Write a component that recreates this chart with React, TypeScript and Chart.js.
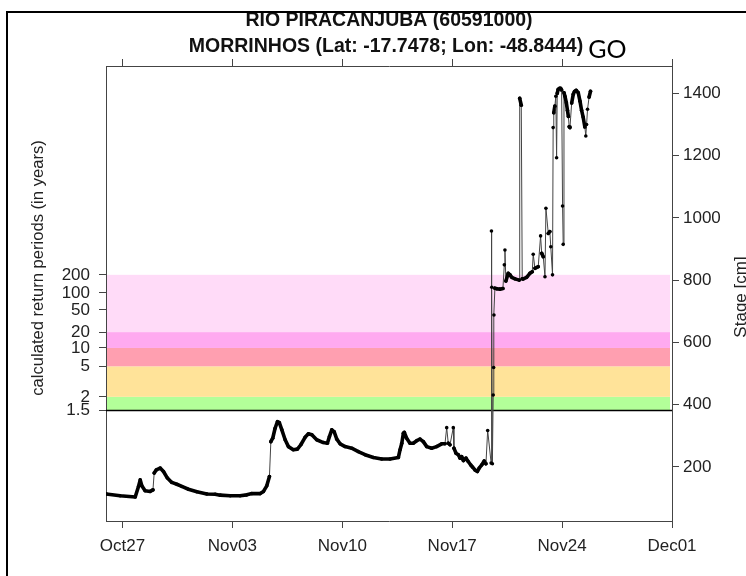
import React, { useEffect, useRef } from "react";
import { Chart, registerables } from "chart.js";

Chart.register(...registerables);

const titleLine1 = "RIO PIRACANJUBA (60591000)";
const titleLine2 = "MORRINHOS (Lat: -17.7478; Lon: -48.8444)";
const titleSuffix = "GO";
const leftAxisTitle = "calculated return periods (in years)";
const rightAxisTitle = "Stage [cm]";

// x in days since Oct 27 00:00
const dateTickDays = [0, 7, 14, 21, 28, 35];
const dateTickLabels = ["Oct27", "Nov03", "Nov10", "Nov17", "Nov24", "Dec01"];
const xMin = -1.05;
const xMax = 35;

const stageTicks = [200, 400, 600, 800, 1000, 1200, 1400];
const stageMin = 26;
const stageMax = 1488;

const returnPeriodLabels = ["1.5", "2", "5", "10", "20", "50", "100", "200"];
const returnPeriodStages = [381, 425, 523, 582, 633, 704, 759, 817];

const bandLowStage = [381, 425, 523, 582, 633];
const bandHighStage = [425, 523, 582, 633, 817];
const bandColors = ["#B3FF99", "#FFE399", "#FF9FB0", "#FFAAF0", "#FFDBF8"];

const timeDays = [
  -1.04, -0.15, 0.81, 1.02, 1.13, 1.23, 1.44, 1.76, 1.94, 2.02, 2.15, 2.4, 2.61, 2.86, 3.14, 3.46, 3.78, 4.2,
  4.74, 5.37, 5.9, 6.22, 6.86, 7.49, 7.92, 8.24, 8.77, 8.98, 9.19, 9.36, 9.45, 9.57, 9.72, 9.87, 9.99, 10.15,
  10.36, 10.57, 10.88, 11.14, 11.36, 11.63, 11.84, 12.06, 12.37, 12.79, 13.05, 13.18, 13.33, 13.48, 13.65,
  13.86, 14.18, 14.6, 15.02, 15.45, 15.98, 16.51, 17.04, 17.57, 17.68, 17.79, 17.89, 17.95, 18.1, 18.31,
  18.52, 18.74, 18.95, 19.16, 19.38, 19.69, 20.01, 20.33, 20.54, 20.65, 20.75, 20.86, 21.07, 21.11, 21.24,
  21.39, 21.5, 21.6, 21.71, 21.88, 22.02, 22.18, 22.3, 22.45, 22.6, 22.72, 22.88, 23.04, 23.15, 23.26, 23.48,
  23.5, 23.52, 23.56, 23.61, 23.64, 23.66, 23.72, 23.85, 24.04, 24.23, 24.32, 24.36, 24.42, 24.57, 24.68,
  24.79, 25.0, 25.27, 25.3, 25.4, 25.46, 25.53, 25.74, 25.95, 26.1, 26.16, 26.27, 26.48, 26.63, 26.7, 26.8,
  26.91, 26.97, 27.12, 27.22, 27.28, 27.39, 27.43, 27.47, 27.54, 27.6, 27.65, 27.69, 27.75, 27.83, 27.91,
  27.97, 28.03, 28.07, 28.12, 28.18, 28.27, 28.34, 28.4, 28.45, 28.5, 28.61, 28.71, 28.79, 28.9, 29.03,
  29.14, 29.24, 29.34, 29.45, 29.51, 29.56, 29.62, 29.72, 29.81,
];

const stageCm = [
  113, 107, 103, 137, 158, 139, 123, 121, 126, 180, 190, 196, 185, 164, 150, 144, 137, 128,
  120, 113, 112, 109, 107, 107, 110, 114, 114, 121, 139, 169, 281, 292, 324, 345, 342, 319,
  287, 265, 255, 257, 271, 295, 306, 303, 287, 278, 276, 297, 319, 313, 289,
  274, 265, 260, 249, 239, 230, 225, 225, 230, 255, 276, 308, 311, 292, 276,
  276, 284, 289, 281, 265, 260, 265, 274, 274, 326, 276, 271, 326, 260, 244,
  239, 228, 233, 220, 228, 217, 206, 199, 190, 185, 196, 206, 219, 210, 317, 212,
  958, 777, 210, 431, 519, 688, 774, 772, 771, 773, 849, 897, 797, 822, 817,
  809, 804, 800, 1384, 1362, 804, 804, 809, 822, 827, 883, 838, 843, 942, 886, 875,
  811, 1031, 950, 956, 907, 817, 1290, 1338, 1359, 1391, 1193, 1400, 1413, 1416, 1416,
  1411, 1038, 915, 1402, 1391, 1370, 1346, 1326, 1293, 1290, 1369, 1397, 1406, 1410, 1402,
  1375, 1346, 1324, 1292, 1263, 1300, 1349, 1388, 1407,
];

const FONT = "'Liberation Sans', Arial, Helvetica, sans-serif";

const decorPlugin = {
  id: "decor",
  beforeDatasetsDraw(chart: any) {
    const { ctx, chartArea } = chart;
    const y = chart.scales.yR;
    ctx.save();
    for (let i = 0; i < bandColors.length; i++) {
      const top = y.getPixelForValue(bandHighStage[i]);
      const bot = y.getPixelForValue(bandLowStage[i]);
      ctx.fillStyle = bandColors[i];
      ctx.fillRect(chartArea.left + 1, top, chartArea.right - chartArea.left - 3, bot - top);
    }
    const yl = y.getPixelForValue(returnPeriodStages[0]);
    ctx.strokeStyle = "#000";
    ctx.lineWidth = 1.5;
    ctx.beginPath();
    ctx.moveTo(chartArea.left, yl);
    ctx.lineTo(chartArea.right, yl);
    ctx.stroke();
    ctx.restore();
  },
  afterDraw(chart: any) {
    const { ctx } = chart;
    ctx.save();
    ctx.fillStyle = "#111";
    ctx.textBaseline = "middle";
    ctx.textAlign = "center";
    ctx.font = `bold 19.5px ${FONT}`;
    ctx.fillText(titleLine1, 389, 21);
    ctx.fillText(titleLine2, 386, 47);
    const w2 = ctx.measureText(titleLine2).width;
    ctx.textAlign = "left";
    ctx.font = `25px Lato, 'Open Sans', sans-serif`;
    ctx.fillStyle = "#000";
    ctx.fillText(titleSuffix, 386 + w2 / 2 + 5, 50);

    ctx.fillStyle = "#222";
    ctx.font = `16.6px ${FONT}`;
    ctx.textAlign = "center";
    ctx.save();
    ctx.translate(38, 268);
    ctx.rotate(-Math.PI / 2);
    ctx.fillText(leftAxisTitle, 0, 0);
    ctx.restore();
    ctx.font = `17px ${FONT}`;
    ctx.save();
    ctx.translate(741, 297);
    ctx.rotate(-Math.PI / 2);
    ctx.fillText(rightAxisTitle, 0, 0);
    ctx.restore();

    // outer frame
    ctx.strokeStyle = "#000";
    ctx.lineWidth = 2;
    ctx.beginPath();
    ctx.moveTo(7, 576);
    ctx.lineTo(7, 12);
    ctx.lineTo(746, 12);
    ctx.stroke();
    ctx.restore();
  },
};

const isSteep = (c: any) => {
  const dx = Math.abs(c.p1.x - c.p0.x);
  const dy = Math.abs(c.p1.y - c.p0.y);
  return dy > 12 || dy > 5 * dx + 4;
};

export default function App() {
  const ref = useRef<HTMLCanvasElement | null>(null);

  useEffect(() => {
    if (!ref.current) return;
    Chart.defaults.font.family = FONT;
    const points = timeDays.map((t, i) => ({ x: t, y: stageCm[i] }));
    const axisColor = "#444";
    const tickFont = { size: 17, family: FONT };

    const chart = new Chart(ref.current, {
      type: "line",
      data: {
        datasets: [
          {
            data: points,
            xAxisID: "x",
            yAxisID: "yR",
            borderColor: "#000",
            borderWidth: 3.6,
            borderJoinStyle: "round",
            borderCapStyle: "round",
            pointRadius: 1.8,
            pointBackgroundColor: "#000",
            pointBorderWidth: 0,
            tension: 0,
            segment: {
              borderWidth: (c: any) => (isSteep(c) ? 1 : 3.6),
              borderColor: (c: any) => (isSteep(c) ? "#444" : "#000"),
            },
          } as any,
        ],
      },
      options: {
        responsive: false,
        animation: false,
        devicePixelRatio: 1,
        layout: { padding: 0 },
        plugins: { legend: { display: false }, tooltip: { enabled: false }, title: { display: false } },
        scales: {
          x: {
            type: "linear",
            position: "bottom",
            min: xMin,
            max: xMax,
            afterBuildTicks: (s: any) => {
              s.ticks = dateTickDays.map((v) => ({ value: v }));
            },
            afterFit: (s: any) => {
              s.height = 55;
            },
            ticks: {
              autoSkip: false,
              maxRotation: 0,
              padding: 8,
              color: "#222",
              font: tickFont,
              callback: (_v: any, i: number) => dateTickLabels[i],
            },
            grid: { drawOnChartArea: false, drawTicks: true, tickLength: 7, color: axisColor },
            border: { display: true, color: axisColor, width: 1 },
          },
          x2: {
            type: "linear",
            position: "top",
            min: xMin,
            max: xMax,
            afterBuildTicks: (s: any) => {
              s.ticks = dateTickDays.map((v) => ({ value: v }));
            },
            afterFit: (s: any) => {
              s.height = 66;
            },
            ticks: { display: false },
            grid: { drawOnChartArea: false, drawTicks: true, tickLength: 7, color: axisColor },
            border: { display: true, color: axisColor, width: 1 },
          },
          yL: {
            type: "linear",
            position: "left",
            min: stageMin,
            max: stageMax,
            afterBuildTicks: (s: any) => {
              s.ticks = returnPeriodStages.map((v) => ({ value: v }));
            },
            afterFit: (s: any) => {
              s.width = 106;
            },
            ticks: {
              autoSkip: false,
              padding: 9,
              color: "#222",
              font: tickFont,
              callback: (_v: any, i: number) => returnPeriodLabels[i],
            },
            grid: { drawOnChartArea: false, drawTicks: true, tickLength: 7, color: axisColor },
            border: { display: true, color: axisColor, width: 1 },
          },
          yR: {
            type: "linear",
            position: "right",
            min: stageMin,
            max: stageMax,
            afterBuildTicks: (s: any) => {
              s.ticks = stageTicks.map((v) => ({ value: v }));
            },
            afterFit: (s: any) => {
              s.width = 74;
            },
            ticks: {
              autoSkip: false,
              padding: 4,
              color: "#222",
              font: tickFont,
              callback: (v: any) => String(v),
            },
            grid: { drawOnChartArea: false, drawTicks: true, tickLength: 7, color: axisColor },
            border: { display: true, color: axisColor, width: 1 },
          },
        },
      },
      plugins: [decorPlugin],
    } as any);

    return () => chart.destroy();
  }, []);

  return (
    <div style={{ position: "absolute", left: 0, top: 0, width: 746, height: 576, background: "#fff" }}>
      <canvas ref={ref} width={746} height={576} style={{ display: "block" }} />
    </div>
  );
}
